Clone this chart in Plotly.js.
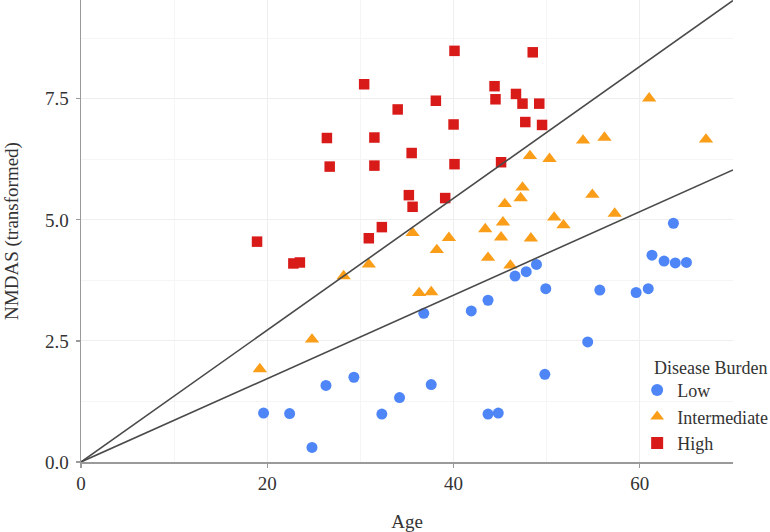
<!DOCTYPE html>
<html>
<head>
<meta charset="utf-8">
<script src="https://cdn.plot.ly/plotly-3.0.1.min.js"></script>
<style>
html,body{margin:0;padding:0;background:#fff;}
#chart{width:770px;height:532px;}
</style>
</head>
<body>
<div id="chart"></div>
<script>
// Low disease burden
const lowAge  = [19.6, 22.4, 24.8, 26.3, 29.3, 32.3, 34.2, 36.8, 37.6, 41.9, 43.7, 43.7, 44.8, 46.6, 47.8, 48.9, 49.9, 49.8, 54.4, 55.7, 59.6, 60.9, 61.3, 62.6, 63.6, 63.8, 65.0];
const lowNM   = [1.01, 1.00, 0.30, 1.58, 1.75, 0.99, 1.33, 3.07, 1.60, 3.12, 3.34, 0.99, 1.01, 3.84, 3.93, 4.08, 3.58, 1.81, 2.48, 3.55, 3.50, 3.58, 4.27, 4.15, 4.93, 4.11, 4.12];
// Intermediate disease burden
const intAge  = [19.2, 24.8, 28.2, 30.9, 35.6, 36.3, 37.6, 38.2, 39.5, 43.4, 43.7, 45.1, 45.3, 45.5, 46.1, 47.2, 47.4, 48.2, 48.3, 50.3, 50.8, 51.8, 53.9, 54.9, 56.2, 57.3, 61.0, 67.1];
const intNM   = [1.92, 2.53, 3.84, 4.08, 4.73, 3.49, 3.51, 4.38, 4.63, 4.81, 4.22, 4.64, 4.95, 5.33, 4.06, 5.45, 5.67, 6.32, 4.62, 6.26, 5.05, 4.89, 6.64, 5.52, 6.70, 5.13, 7.51, 6.66];
// High disease burden
const highAge = [18.9, 22.8, 23.5, 26.4, 26.7, 30.4, 30.9, 31.5, 31.5, 32.3, 34.0, 35.2, 35.5, 35.6, 38.1, 39.1, 40.0, 40.1, 40.1, 44.4, 44.5, 45.1, 46.7, 47.4, 47.7, 48.5, 49.2, 49.5];
const highNM  = [4.55, 4.10, 4.12, 6.69, 6.10, 7.80, 4.62, 6.70, 6.12, 4.85, 7.28, 5.51, 6.38, 5.27, 7.46, 5.45, 6.97, 8.49, 6.15, 7.76, 7.49, 6.19, 7.60, 7.40, 7.02, 8.46, 7.40, 6.96];
// Reference lines through the origin
const lineAge   = [0, 70];
const upperLine = [0, 9.53];
const lowerLine = [0, 6.03];

const seriesNames = ['Low', 'Intermediate', 'High'];
const legendTitle = 'Disease Burden';
const xTitle = 'Age';
const yTitle = 'NMDAS (transformed)';

const FONT = '"Liberation Serif", "Times New Roman", serif';

const traces = [
  {x: lowAge, y: lowNM, name: seriesNames[0], type: 'scatter', mode: 'markers',
   marker: {symbol: 'circle', size: 11, color: '#4F86F7', line: {width: 0}}},
  {x: intAge, y: intNM, name: seriesNames[1], type: 'scatter', mode: 'markers',
   marker: {symbol: 'triangle-up', size: 12.5, color: '#FA9E1A', line: {width: 0}}},
  {x: highAge, y: highNM, name: seriesNames[2], type: 'scatter', mode: 'markers',
   marker: {symbol: 'square', size: 10.5, color: '#D81B19', line: {width: 0}}},
  {x: lineAge, y: upperLine, type: 'scatter', mode: 'lines', showlegend: false,
   line: {color: '#4a4a4a', width: 1.6}, hoverinfo: 'skip'},
  {x: lineAge, y: lowerLine, type: 'scatter', mode: 'lines', showlegend: false,
   line: {color: '#4a4a4a', width: 1.6}, hoverinfo: 'skip'}
];

const layout = {
  width: 770, height: 532,
  margin: {l: 81, r: 37, t: 0, b: 70, autoexpand: false},
  paper_bgcolor: '#ffffff',
  plot_bgcolor: '#ffffff',
  font: {family: FONT, size: 18, color: '#222'},
  showlegend: true,
  xaxis: {
    range: [0, 70], dtick: 20, tick0: 0,
    showline: true, linecolor: '#9a9a9a', linewidth: 1.5,
    ticks: 'outside', ticklen: 4, tickcolor: '#9a9a9a', tickwidth: 1.2,
    showgrid: true, gridcolor: '#eeeeee', gridwidth: 1,
    minor: {dtick: 10, showgrid: true, gridcolor: '#f5f5f5', gridwidth: 1},
    zeroline: false, automargin: false,
    tickfont: {family: FONT, size: 19, color: '#333'},
    title: {text: xTitle, font: {family: FONT, size: 19, color: '#333'}, standoff: 22}
  },
  yaxis: {
    range: [0, 9.54], dtick: 2.5, tick0: 0, tickformat: '.1f',
    showline: true, linecolor: '#9a9a9a', linewidth: 1.5,
    ticks: 'outside', ticklen: 4, tickcolor: '#9a9a9a', tickwidth: 1.2,
    ticklabelstandoff: 3,
    showgrid: true, gridcolor: '#eeeeee', gridwidth: 1,
    minor: {dtick: 1.25, showgrid: true, gridcolor: '#f5f5f5', gridwidth: 1},
    zeroline: false, automargin: false,
    tickfont: {family: FONT, size: 19, color: '#333'},
    title: {text: yTitle, font: {family: FONT, size: 19, color: '#333'}, standoff: 21}
  },
  legend: {
    x: 0.853, xanchor: 'left', y: 0.195, yanchor: 'top',
    bgcolor: 'rgba(0,0,0,0)',
    font: {family: FONT, size: 18, color: '#333'},
    tracegroupgap: 0, itemsizing: 'constant'
  },
  annotations: [{
    text: legendTitle, xref: 'paper', yref: 'paper',
    x: 0.876, y: 0.2035, xanchor: 'left', yanchor: 'middle',
    showarrow: false, font: {family: FONT, size: 18, color: '#333'}
  }]
};

Plotly.newPlot('chart', traces, layout, {displayModeBar: false, staticPlot: true});
</script>
</body>
</html>
